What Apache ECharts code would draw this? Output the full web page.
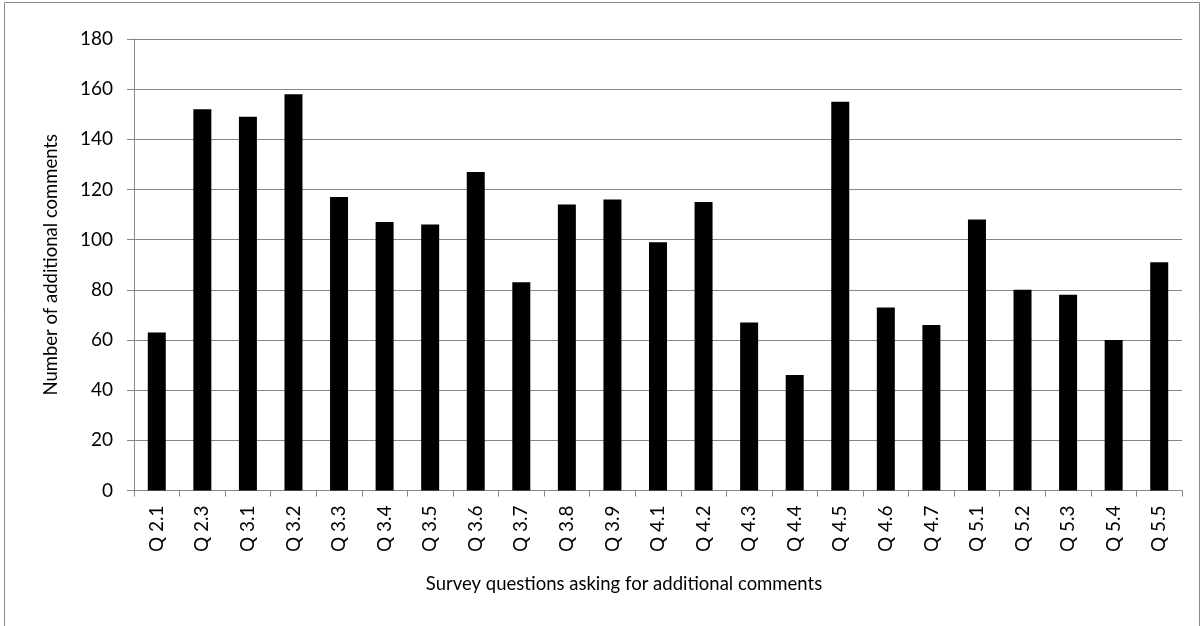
<!DOCTYPE html>
<html>
<head>
<meta charset="utf-8">
<script src="https://cdn.jsdelivr.net/npm/echarts@6/dist/echarts.min.js"></script>
<style>html,body{margin:0;padding:0;background:#fff}#c{width:1204px;height:626px}</style>
</head>
<body>
<div id="c"></div>
<script>
const categories = ["Q 2.1","Q 2.3","Q 3.1","Q 3.2","Q 3.3","Q 3.4","Q 3.5","Q 3.6","Q 3.7","Q 3.8","Q 3.9","Q 4.1","Q 4.2","Q 4.3","Q 4.4","Q 4.5","Q 4.6","Q 4.7","Q 5.1","Q 5.2","Q 5.3","Q 5.4","Q 5.5"];
const comments = [63,152,149,158,117,107,106,127,83,114,116,99,115,67,46,155,73,66,108,80,78,60,91];
const yTicks = {min:0, max:180, interval:20};
const xTitle = "Survey questions asking for additional comments";
const yTitle = "Number of additional comments";

const font = "Lato, 'Open Sans', sans-serif";
const chart = echarts.init(document.getElementById('c'), null, {renderer:'canvas'});
chart.setOption({
  animation:false,
  backgroundColor:'#fff',
  graphic:[{type:'rect', shape:{x:4.5,y:2.5,width:1195,height:640}, style:{fill:'none', stroke:'#8c8c8c', lineWidth:1}, silent:true}],
  grid:{left:134, right:22, top:39, bottom:135.5},
  xAxis:{
    type:'category', data:categories,
    name:xTitle, nameLocation:'middle', nameGap:84,
    nameTextStyle:{fontFamily:font, fontSize:18.5, color:'#000', padding:[0,68,0,0]},
    axisLine:{lineStyle:{color:'#868686', width:1}},
    axisTick:{show:true, alignWithLabel:false, length:6, lineStyle:{color:'#868686'}},
    axisLabel:{rotate:90, fontFamily:font, fontSize:19, color:'#000', margin:15, interval:0}
  },
  yAxis:{
    type:'value', min:yTicks.min, max:yTicks.max, interval:yTicks.interval,
    name:yTitle, nameLocation:'middle', nameGap:73,
    nameTextStyle:{fontFamily:font, fontSize:18.5, color:'#000'},
    axisLine:{show:true, lineStyle:{color:'#868686', width:1}},
    axisTick:{show:true, length:7, lineStyle:{color:'#868686'}},
    axisLabel:{fontFamily:font, fontSize:19, color:'#000', margin:21},
    splitLine:{lineStyle:{color:'#868686', width:1}}
  },
  series:[{type:'bar', data:comments, barWidth:18, itemStyle:{color:'#000'}}]
});
</script>
</body>
</html>
